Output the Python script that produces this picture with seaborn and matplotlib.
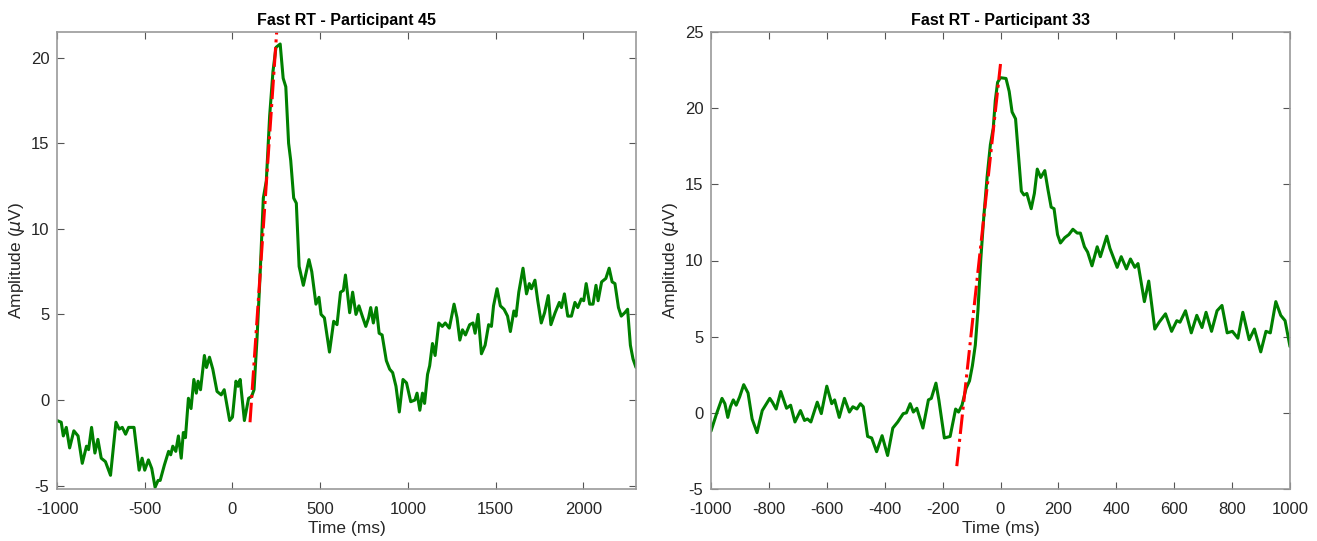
import numpy as np
import pandas as pd
import matplotlib
matplotlib.use("Agg")
import matplotlib.pyplot as plt
import seaborn as sns

# ---------------- data ----------------
titles = ["Fast RT - Participant 45", "Fast RT - Participant 33"]

p45_t = [-1000, -976, -964, -947, -928, -904, -880, -856, -832, -820, -803, -784, -767, -748, -724,
         -695, -664, -645, -628, -609, -592, -561, -532, -515, -500, -479, -460, -441, -424, -412,
         -388, -364, -352, -340, -323, -308, -292, -280, -268, -251, -236, -220, -206, -196, -182,
         -160, -148, -131, -112, -88, -64, -47, -16, 0, 20, 32, 44, 68, 92, 109, 123, 140, 157, 176,
         193, 212, 231, 248, 272, 289, 304, 320, 332, 349, 364, 380, 404, 436, 452, 476, 493, 505,
         524, 553, 577, 596, 616, 632, 644, 668, 685, 704, 721, 740, 760, 776, 788, 803, 820, 836,
         853, 877, 896, 913, 932, 951, 972, 992, 1016, 1040, 1052, 1068, 1083, 1095, 1112, 1124,
         1140, 1155, 1176, 1196, 1213, 1236, 1263, 1280, 1296, 1311, 1328, 1352, 1371, 1383, 1400,
         1419, 1440, 1460, 1476, 1488, 1508, 1527, 1548, 1568, 1584, 1604, 1616, 1632, 1656, 1676,
         1692, 1704, 1724, 1740, 1760, 1779, 1800, 1815, 1839, 1863, 1875, 1892, 1911, 1932, 1952,
         1968, 1988, 2002, 2016, 2036, 2055, 2072, 2084, 2104, 2128, 2147, 2164, 2180, 2200, 2216,
         2236, 2252, 2268, 2283, 2300]
p45_v = [-1.2, -1.3, -2.1, -1.6, -2.8, -1.8, -2.1, -3.7, -2.7, -2.9, -1.6, -3.1, -2.3, -3.4, -3.6,
         -4.4, -1.3, -1.7, -1.6, -2.0, -1.6, -1.6, -4.1, -3.4, -4.1, -3.5, -4.0, -5.1, -4.7, -4.7,
         -3.8, -3.0, -3.2, -2.7, -3.0, -2.1, -3.4, -1.9, -2.2, 0.1, -0.5, 1.2, 0.4, 1.1, 0.6,
         2.6, 1.9, 2.5, 1.8, 0.5, 0.3, 0.6, -1.2, -1.0, 1.1, 0.8, 1.2, -1.2, 0.1, 0.2, 0.6, 3.6, 7.2, 11.8,
         12.8, 16.6, 19.2, 20.6, 20.8, 18.8, 18.3, 15.0, 14.0, 11.8, 11.5, 7.8, 6.7, 8.2, 7.5, 5.6, 6.0, 5.0,
         4.8, 2.8, 4.6, 4.4, 6.3, 6.4, 7.3, 5.1, 6.3, 5.0, 5.5, 4.9, 4.3, 4.8, 5.4, 4.5, 5.4, 3.9,
         3.8, 2.3, 1.8, 1.6, 0.8, -0.7, 1.2, 1.0, -0.1, 0.0, 0.4, -0.6, 0.4, -0.2, 1.5, 2.0,
         3.3, 2.6, 4.5, 4.3, 4.5, 4.2, 5.6, 4.8, 3.5, 4.1, 3.8, 4.4, 4.5, 3.9, 5.0,
         2.7, 3.2, 4.4, 4.3, 5.5, 6.5, 5.5, 5.3, 4.9, 4.0, 5.2, 4.9, 6.3, 7.7, 6.2,
         6.8, 6.5, 7.0, 5.8, 4.5, 5.1, 6.1, 4.4, 5.1, 5.7, 5.4, 6.2, 4.9, 4.9, 5.7,
         5.4, 5.9, 5.8, 6.8, 5.6, 5.6, 6.7, 5.8, 6.9, 7.1, 7.7, 6.9, 6.8, 5.4, 4.9,
         5.1, 5.3, 3.2, 2.4, 1.9]

p33_t = [-1000, -981, -962, -952, -942, -933, -923, -913, -901, -887, -872, -858, -841, -823, -797,
         -788, -775, -759, -749, -739, -725, -710, -691, -677, -667, -655, -633, -619, -600, -583,
         -573, -557, -539, -522, -510, -496, -484, -474, -459, -445, -428, -409, -390, -372, -355,
         -336, -325, -312, -301, -289, -268, -249, -239, -223, -213, -194, -174, -155, -145, -133,
         -119, -107, -97, -87, -78, -68, -58, -46, -35, -25, -18, -10, 0, 19, 30, 40, 52, 62, 72,
         81, 91, 106, 117, 127, 139, 153, 164, 175, 185, 197, 207, 222, 236, 250, 265, 276, 290,
         301, 316, 334, 345, 367, 378, 403, 417, 435, 449, 464, 475, 497, 512, 533, 548, 570,
         591, 609, 620, 639, 659, 678, 696, 710, 729, 748, 765, 783, 801, 820, 837, 859, 877,
         899, 917, 932, 951, 968, 983, 1000]
p33_v = [-1.2, -0.07, 0.95, 0.6, -0.3, 0.4, 0.85, 0.5, 1.05, 1.85, 1.3, -0.4, -1.3, 0.15, 0.95,
         0.7, 0.25, 1.4, 0.85, 0.3, 0.5, -0.6, 0.15, -0.5, -0.4, -0.6, 0.7, -0.05, 1.75, 0.6,
         0.85, -0.3, 0.95, 0.05, 0.4, 0.25, 0.6, 0.4, -1.55, -1.65, -2.55, -1.5, -2.8, -1.0, -0.6,
         -0.05, 0.0, 0.6, 0.05, 0.3, -1.0, 0.85, 0.95, 1.95, 0.85, -1.65, -1.55, 0.25, 0.05, 0.5,
         1.6, 2.1, 3.1, 4.45, 6.7, 10.1, 12.8, 15.55, 17.6, 18.7, 20.5, 21.7, 22.0, 21.95, 21.1, 19.75, 19.3, 16.9, 14.55,
         14.3, 14.4, 13.4, 14.4, 16.0, 15.45, 15.9, 14.65, 13.5, 13.4, 11.7, 11.15, 11.5, 11.7, 12.05, 11.8, 11.8, 10.9,
         10.55, 9.65, 10.9, 10.25, 11.6, 10.8, 9.55, 10.25, 9.45, 10.1, 9.55, 9.8, 7.3, 8.65, 5.5, 5.95, 6.5,
         5.35, 6.05, 5.95, 6.7, 5.25, 6.4, 5.6, 6.6, 5.35, 6.7, 7.05, 5.25, 5.35, 4.9, 6.6, 4.8, 5.5,
         4.0, 5.35, 5.25, 7.3, 6.4, 6.05, 4.35]

# fitted slope lines (endpoints)
fit45_t = [100, 252]
fit45_v = [-1.3, 21.5]
fit33_t = [-151, 0]
fit33_v = [-3.5, 22.9]

xlims = [(-1000, 2300), (-1000, 1000)]
ylims = [(-5.2, 21.5), (-5, 25)]
xticks = [[-1000, -500, 0, 500, 1000, 1500, 2000],
          [-1000, -800, -600, -400, -200, 0, 200, 400, 600, 800, 1000]]
yticks = [[-5, 0, 5, 10, 15, 20], [-5, 0, 5, 10, 15, 20, 25]]

# ---------------- style ----------------
sns.set_style("white")
plt.rcParams['font.family'] = ['Liberation Sans', 'DejaVu Sans']
plt.rcParams['mathtext.fontset'] = 'dejavusans'
plt.rcParams['axes.unicode_minus'] = False

fig = plt.figure(figsize=(13.17, 5.41), dpi=100)
W, H = 1317, 541
ax_boxes = [(57, 32, 636, 489), (711, 32, 1290, 489)]

series = [(p45_t, p45_v, fit45_t, fit45_v), (p33_t, p33_v, fit33_t, fit33_v)]
green = (0.0, 0.5, 0.0)
for i, (box, (t, v, ft, fv)) in enumerate(zip(ax_boxes, series)):
    l, tp, r, b = box
    ax = fig.add_axes([l / W, 1 - b / H, (r - l) / W, (b - tp) / H])
    df = pd.DataFrame({"t": t, "v": v})
    sns.lineplot(data=df, x="t", y="v", ax=ax, color=green, linewidth=2.2,
                 sort=False, estimator=None)
    fdf = pd.DataFrame({"t": ft, "v": fv})
    sns.lineplot(data=fdf, x="t", y="v", ax=ax, color="red", linewidth=2.2,
                 linestyle="-.", sort=False, estimator=None)
    ax.set_xlim(*xlims[i])
    ax.set_ylim(*ylims[i])
    ax.set_xticks(xticks[i])
    ax.set_yticks(yticks[i])
    ax.set_title(titles[i], fontsize=11.5, fontweight='bold', color='black', pad=5)
    ax.set_xlabel("Time (ms)", fontsize=12.5, color='#262626', labelpad=3)
    ax.set_ylabel(r"Amplitude ($\mu$V)", fontsize=12.5, color='#262626', labelpad=3)
    for s in ax.spines.values():
        s.set_visible(True)
        s.set_color('#9a9a9a')
        s.set_linewidth(1.2)
    ax.tick_params(axis='both', direction='in', length=5, width=0.8, color='#555555',
                   top=True, right=True, bottom=True, left=True,
                   labelsize=12, labelcolor='#262626')
    ax.tick_params(axis='x', pad=9)
    ax.tick_params(axis='y', pad=5.5)

fig.savefig("out.png", dpi=100, facecolor='white')
